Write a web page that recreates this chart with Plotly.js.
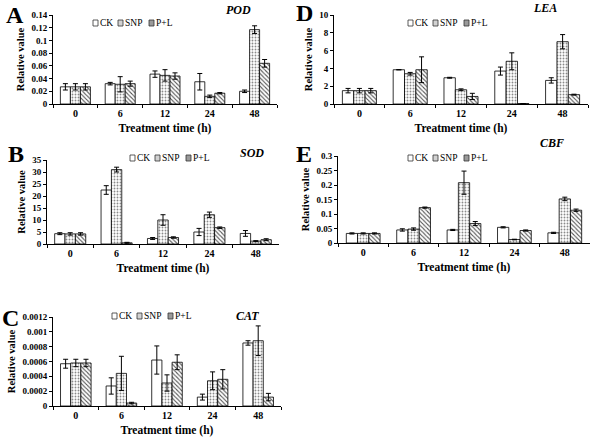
<!DOCTYPE html>
<html><head><meta charset="utf-8">
<script src="https://cdn.plot.ly/plotly-3.0.1.min.js"></script>
<style>body{margin:0;padding:0;background:#fff}#chart{width:602px;height:439px}</style>
</head><body><div id="chart"></div>
<script>
const categories = ['0','6','12','24','48'];
const seriesNames = ['CK','SNP','P+L'];

// POD (A)
const podCK = [0.027,0.032,0.047,0.035,0.020];
const podCKErr = [0.005,0.002,0.005,0.013,0.002];
const podSNP = [0.027,0.031,0.045,0.012,0.117];
const podSNPErr = [0.005,0.012,0.009,0.002,0.006];
const podPL = [0.027,0.032,0.044,0.017,0.064];
const podPLErr = [0.005,0.004,0.005,0.001,0.006];

// SOD (B)
const sodCK = [4.3,22.5,2.3,5.0,4.4];
const sodCKErr = [0.4,1.8,0.4,1.5,1.2];
const sodSNP = [4.2,31.0,10.0,12.2,1.2];
const sodSNPErr = [0.5,1.0,2.2,1.1,0.2];
const sodPL = [4.2,0.5,2.7,6.8,1.8];
const sodPLErr = [0.5,0.2,0.3,0.3,0.4];

// CAT (C)
const catCK = [0.00057,0.00027,0.00062,0.00012,0.00085];
const catCKErr = [0.00006,0.00011,0.00019,0.00004,0.00003];
const catSNP = [0.00058,0.00044,0.00031,0.00034,0.00088];
const catSNPErr = [0.00005,0.00023,0.00011,0.00012,0.0002];
const catPL = [0.00058,0.00004,0.00059,0.00036,0.00012];
const catPLErr = [0.00005,0.00001,0.0001,0.00013,0.00005];

// LEA (D)
const leaCK = [1.5,3.85,2.95,3.7,2.65];
const leaCKErr = [0.25,0,0.05,0.45,0.3];
const leaSNP = [1.5,3.4,1.6,4.8,7.0];
const leaSNPErr = [0.25,0.15,0.1,0.95,0.8];
const leaPL = [1.5,3.85,0.85,0.05,1.05];
const leaPLErr = [0.25,1.45,0.35,0,0.05];

// CBF (E)
const cbfCK = [0.033,0.045,0.045,0.054,0.035];
const cbfCKErr = [0.002,0.004,0.002,0.002,0.002];
const cbfSNP = [0.033,0.048,0.208,0.012,0.152];
const cbfSNPErr = [0.002,0.004,0.04,0.001,0.006];
const cbfPL = [0.033,0.122,0.067,0.043,0.113];
const cbfPLErr = [0.002,0.002,0.007,0.002,0.004];

const W = 602, H = 439;
const serif = 'Liberation Serif';

const panels = [
  {id:'', letter:'A', gene:'POD', data:[[podCK,podCKErr],[podSNP,podSNPErr],[podPL,podPLErr]],
   x:[53,277], y:[15,104], range:[0,0.14], dtick:0.02,
   letterPos:[5,15], genePos:[238,10], legPos:[93,23]},
  {id:'2', letter:'B', gene:'SOD', data:[[sodCK,sodCKErr],[sodSNP,sodSNPErr],[sodPL,sodPLErr]],
   x:[47,279], y:[160,244], range:[0,35], dtick:5,
   letterPos:[7,154], genePos:[252,153], legPos:[130,158]},
  {id:'3', letter:'C', gene:'CAT', data:[[catCK,catCKErr],[catSNP,catSNPErr],[catPL,catPLErr]],
   x:[53,281], y:[317,406], range:[0,0.0012], dtick:0.0002,
   letterPos:[1,318], genePos:[247,316], legPos:[112,316]},
  {id:'4', letter:'D', gene:'LEA', data:[[leaCK,leaCKErr],[leaSNP,leaSNPErr],[leaPL,leaPLErr]],
   x:[334,588], y:[15,104], range:[0,10], dtick:2,
   letterPos:[295,13], genePos:[545,8], legPos:[408,23]},
  {id:'5', letter:'E', gene:'CBF', data:[[cbfCK,cbfCKErr],[cbfSNP,cbfSNPErr],[cbfPL,cbfPLErr]],
   x:[338,590], y:[156,243], range:[0,0.3], dtick:0.05,
   letterPos:[295,154], genePos:[552,143], legPos:[408,158]}
];

const styles = [
  {color:'#ffffff', pattern:{shape:''}},
  {color:'#ffffff', pattern:{shape:'.', fgcolor:'#8a8a8a', bgcolor:'#fff', size:3, solidity:0.3}},
  {color:'#ffffff', pattern:{shape:'\\', fgcolor:'#555', bgcolor:'#fff', size:3, solidity:0.35}}
];
const legendSwatch = ['#ffffff','#d2d2d2','#9a9a9a'];
const legendOffsets = [[0,5],[25,30],[56,61]];

const traces = [];
const layout = {
  width:W, height:H, margin:{l:0,r:0,t:0,b:0},
  paper_bgcolor:'#fff', plot_bgcolor:'#fff',
  showlegend:false, barmode:'group', bargap:0.33, bargroupgap:0,
  font:{family:serif, color:'#000'},
  annotations:[], shapes:[]
};

panels.forEach(p => {
  p.data.forEach((d,i) => {
    traces.push({
      type:'bar', x:categories, y:d[0], name:seriesNames[i],
      xaxis:'x'+p.id, yaxis:'y'+p.id,
      marker:{color:styles[i].color, pattern:styles[i].pattern, line:{color:'#000', width:0.8}},
      error_y:{type:'data', array:d[1], visible:true, color:'#000', thickness:1, width:2.5}
    });
  });
  const xa = 'xaxis'+p.id, ya = 'yaxis'+p.id;
  layout[xa] = {
    type:'category',
    domain:[p.x[0]/W, p.x[1]/W], anchor:'y'+p.id,
    showline:true, linecolor:'#000', linewidth:1,
    ticks:'outside', ticklen:3, tickcolor:'#000', tickson:'boundaries',
    showgrid:false, zeroline:false,
    tickfont:{family:serif, size:10, color:'#000', weight:'bold'},
    title:{text:'Treatment time (h)', font:{family:serif, size:11.5, color:'#000', weight:'bold'}, standoff:5}
  };
  layout[ya] = {
    domain:[1-p.y[1]/H, 1-p.y[0]/H], anchor:'x'+p.id,
    range:p.range, dtick:p.dtick, tick0:0,
    showline:true, linecolor:'#000', linewidth:1,
    ticks:'outside', ticklen:3, tickcolor:'#000',
    showgrid:false, zeroline:false, exponentformat:'none',
    tickfont:{family:serif, size:9, color:'#000', weight:'bold'},
    title:{text:'Relative value', font:{family:serif, size:10.5, color:'#000', weight:'bold'}, standoff:4}
  };
  layout.annotations.push(
    {xref:'paper', yref:'paper', x:p.letterPos[0]/W, y:1-p.letterPos[1]/H, xanchor:'left', yanchor:'middle',
     text:'<b>'+p.letter+'</b>', showarrow:false, borderpad:0, font:{family:serif, size:24, color:'#000'}},
    {xref:'paper', yref:'paper', x:p.genePos[0]/W, y:1-p.genePos[1]/H, xanchor:'center', yanchor:'middle',
     text:'<b><i>'+p.gene+'</i></b>', showarrow:false, font:{family:serif, size:12, color:'#000'}}
  );
  seriesNames.forEach((nm,i) => {
    const sx = p.legPos[0] + legendOffsets[i][0];
    const sy = p.legPos[1];
    layout.shapes.push({type:'rect', xref:'paper', yref:'paper',
      x0:sx/W, x1:(sx+5)/W, y0:1-(sy+3)/H, y1:1-(sy-3)/H,
      fillcolor:legendSwatch[i], line:{color:'#333', width:0.8}});
    layout.annotations.push({xref:'paper', yref:'paper', x:(p.legPos[0]+legendOffsets[i][1])/W, y:1-sy/H,
      xanchor:'left', yanchor:'middle', text:nm, showarrow:false,
      font:{family:serif, size:9.5, color:'#000'}});
  });
});

Plotly.newPlot('chart', traces, layout, {staticPlot:true});
</script></body></html>
